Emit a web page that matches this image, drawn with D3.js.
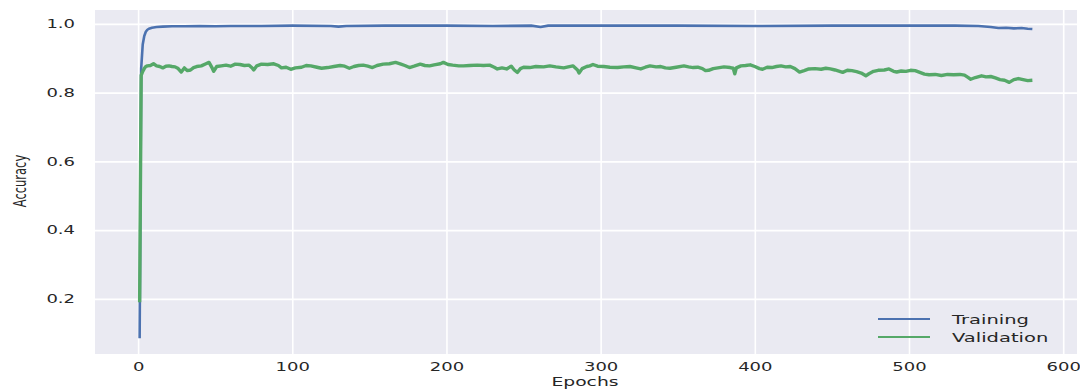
<!DOCTYPE html>
<html>
<head>
<meta charset="utf-8">
<script src="https://cdn.jsdelivr.net/npm/d3@7"></script>
<style>
  body { margin: 0; background: #fff; }
  svg { display: block; font-family: "DejaVu Sans", sans-serif; }
</style>
</head>
<body>
<div id="app"></div>
<script>
const trainEpochs = [1, 2, 3, 4, 5, 6, 7, 9, 12, 16, 22, 30, 40, 50, 60, 80, 100, 125, 130, 135, 160, 200, 230, 255, 261, 266, 300, 350, 400, 450, 500, 530, 545, 553, 558, 563, 568, 573, 577, 580];
const trainAcc = [0.085, 0.87, 0.94, 0.965, 0.977, 0.983, 0.986, 0.989, 0.991, 0.992, 0.993, 0.993, 0.994, 0.993, 0.994, 0.994, 0.995, 0.994, 0.992, 0.994, 0.995, 0.995, 0.994, 0.995, 0.991, 0.995, 0.995, 0.995, 0.994, 0.995, 0.995, 0.995, 0.994, 0.991, 0.988, 0.989, 0.987, 0.988, 0.986, 0.985];

const valEpochs = [1, 2, 3, 4, 5, 6, 8, 10, 12, 14, 16, 18, 20, 22, 24, 26, 28, 30, 32, 34, 36, 38, 41, 44, 46, 48, 49, 51, 54, 57, 60, 63, 66, 69, 72, 74, 75, 77, 80, 84, 88, 91, 93, 96, 99, 102, 106, 109, 112, 116, 119, 123, 127, 131, 134, 137, 140, 143, 146, 149, 152, 155, 159, 163, 167, 170, 173, 176, 179, 183, 186, 189, 192, 196, 198, 201, 204, 208, 211, 215, 220, 224, 228, 231, 233, 236, 239, 242, 244, 246, 248, 250, 254, 258, 263, 267, 271, 276, 279, 282, 285, 286, 288, 291, 293, 295, 298, 302, 306, 311, 315, 319, 323, 326, 329, 332, 336, 339, 342, 345, 349, 354, 357, 360, 363, 366, 368, 370, 373, 376, 380, 384, 386, 387, 388, 391, 394, 397, 400, 403, 405, 408, 411, 414, 417, 420, 423, 426, 429, 432, 435, 439, 443, 446, 449, 452, 455, 457, 460, 463, 466, 469, 472, 474, 477, 480, 484, 487, 490, 492, 495, 498, 501, 504, 507, 510, 513, 517, 521, 525, 529, 533, 536, 538, 540, 543, 547, 550, 553, 556, 559, 562, 565, 568, 571, 574, 577, 580];
const valAcc = [0.19, 0.85, 0.862, 0.87, 0.876, 0.878, 0.879, 0.884, 0.878, 0.876, 0.872, 0.877, 0.878, 0.876, 0.875, 0.87, 0.86, 0.872, 0.864, 0.866, 0.873, 0.876, 0.878, 0.884, 0.888, 0.872, 0.862, 0.876, 0.878, 0.88, 0.877, 0.883, 0.882, 0.879, 0.88, 0.872, 0.866, 0.878, 0.883, 0.882, 0.884, 0.879, 0.872, 0.874, 0.868, 0.872, 0.874, 0.879, 0.878, 0.874, 0.871, 0.873, 0.876, 0.879, 0.877, 0.871, 0.876, 0.879, 0.88, 0.877, 0.873, 0.879, 0.883, 0.884, 0.888, 0.884, 0.879, 0.873, 0.877, 0.883, 0.879, 0.878, 0.881, 0.884, 0.888, 0.882, 0.88, 0.878, 0.878, 0.879, 0.88, 0.879, 0.88, 0.874, 0.869, 0.872, 0.869, 0.877, 0.866, 0.859, 0.87, 0.874, 0.873, 0.876, 0.875, 0.878, 0.875, 0.872, 0.875, 0.878, 0.866, 0.857, 0.87, 0.876, 0.878, 0.882, 0.877, 0.876, 0.874, 0.873, 0.875, 0.876, 0.872, 0.869, 0.874, 0.878, 0.875, 0.876, 0.872, 0.871, 0.874, 0.878, 0.875, 0.873, 0.874, 0.87, 0.864, 0.865, 0.87, 0.872, 0.875, 0.873, 0.871, 0.855, 0.872, 0.878, 0.879, 0.881, 0.876, 0.87, 0.868, 0.874, 0.873, 0.876, 0.878, 0.875, 0.876, 0.87, 0.86, 0.864, 0.869, 0.87, 0.868, 0.871, 0.869, 0.866, 0.862, 0.859, 0.865, 0.864, 0.861, 0.857, 0.849, 0.855, 0.862, 0.865, 0.866, 0.869, 0.862, 0.86, 0.863, 0.862, 0.865, 0.864, 0.859, 0.854, 0.852, 0.853, 0.85, 0.853, 0.852, 0.853, 0.851, 0.845, 0.839, 0.844, 0.849, 0.846, 0.847, 0.843, 0.838, 0.836, 0.83, 0.838, 0.841, 0.838, 0.835, 0.836];

const xTicks = [0, 100, 200, 300, 400, 500, 600];
const yTicks = [0.2, 0.4, 0.6, 0.8, 1.0];
const seriesNames = ["Training", "Validation"];
const colors = ["#4c72b0", "#55a868"];

const width = 1080, height = 389;
const margin = { top: 10, right: 3, bottom: 35, left: 95 };
const sx = 1.5; // the picture is stretched sideways

const svg = d3.select('#app')
  .append('svg')
  .attr('width', width)
  .attr('height', height);

const x = d3.scaleLinear()
  .domain([1 - 579 * 0.05, 580 + 579 * 0.05])
  .range([margin.left, width - margin.right]);

const y = d3.scaleLinear()
  .domain([0.085 - 0.91 * 0.05, 0.995 + 0.91 * 0.05])
  .range([height - margin.bottom, margin.top]);

svg.append("rect")
  .attr("x", margin.left)
  .attr("y", margin.top)
  .attr("width", width - margin.left - margin.right)
  .attr("height", height - margin.top - margin.bottom)
  .attr("fill", "#eaeaf2");

// grid
svg.append("g")
  .attr("transform", `translate(0, ${height - margin.bottom})`)
  .call(d3.axisBottom(x).tickValues(xTicks).tickSize(-(height - margin.top - margin.bottom)).tickFormat(""))
  .call(g => g.select(".domain").remove())
  .call(g => g.selectAll("line").attr("stroke", "#fff").attr("stroke-width", 1.6));

svg.append("g")
  .attr("transform", `translate(${margin.left}, 0)`)
  .call(d3.axisLeft(y).tickValues(yTicks).tickSize(-(width - margin.left - margin.right)).tickFormat(""))
  .call(g => g.select(".domain").remove())
  .call(g => g.selectAll("line").attr("stroke", "#fff").attr("stroke-width", 1.6));

// tick labels
const axX = svg.append("g")
  .attr("transform", `translate(0, ${height - margin.bottom})`)
  .call(d3.axisBottom(x).tickValues(xTicks).tickSize(0).tickPadding(8).tickFormat(d3.format("d")));
axX.select(".domain").remove();
axX.selectAll("text")
  .attr("font-size", 12)
  .attr("font-family", "DejaVu Sans")
  .attr("fill", "#262626")
  .attr("transform", `scale(${sx},1)`);

const axY = svg.append("g")
  .attr("transform", `translate(${margin.left}, 0)`)
  .call(d3.axisLeft(y).tickValues(yTicks).tickSize(0).tickFormat(d3.format(".1f")));
axY.select(".domain").remove();
axY.selectAll("text")
  .attr("x", -20 / sx)
  .attr("font-size", 12)
  .attr("font-family", "DejaVu Sans")
  .attr("fill", "#262626")
  .attr("transform", `scale(${sx},1)`);

// lines
const line = d3.line()
  .x(d => x(d[0]))
  .y(d => y(d[1]));

svg.append("path")
  .datum(trainEpochs.map((e, i) => [e, trainAcc[i]]))
  .attr("fill", "none")
  .attr("stroke", colors[0])
  .attr("stroke-width", 2.6)
  .attr("stroke-linejoin", "round")
  .attr("d", line);

svg.append("path")
  .datum(valEpochs.map((e, i) => [e, valAcc[i]]))
  .attr("fill", "none")
  .attr("stroke", colors[1])
  .attr("stroke-width", 3.4)
  .attr("stroke-linejoin", "round")
  .attr("d", line);

// axis titles
svg.append("text")
  .attr("transform", `translate(585, 386) scale(${sx},1)`)
  .attr("text-anchor", "middle")
  .attr("font-size", 12.5)
  .attr("fill", "#262626")
  .text("Epochs");

svg.append("text")
  .attr("transform", `translate(26, 181) scale(${sx},1) rotate(-90)`)
  .attr("text-anchor", "middle")
  .attr("font-size", 11.5)
  .attr("fill", "#262626")
  .text("Accuracy");

// legend
const legend = svg.append("g");
seriesNames.forEach((name, i) => {
  const ly = 319 + i * 18;
  legend.append("line")
    .attr("x1", 878).attr("x2", 930)
    .attr("y1", ly).attr("y2", ly)
    .attr("stroke", colors[i])
    .attr("stroke-width", 2);
  legend.append("text")
    .attr("transform", `translate(952, ${ly + 4.5}) scale(${sx},1)`)
    .attr("font-size", 13)
    .attr("fill", "#262626")
    .text(name);
});
</script>
</body>
</html>
